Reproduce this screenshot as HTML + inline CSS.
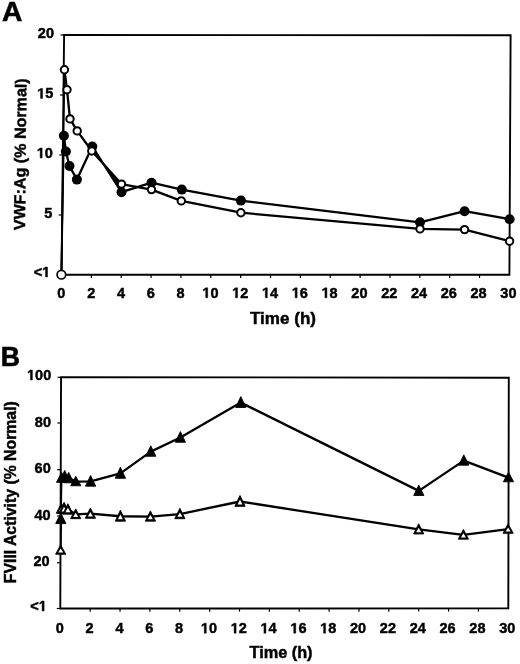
<!DOCTYPE html>
<html><head><meta charset="utf-8"><style>
html,body{margin:0;padding:0;background:#fff;width:520px;height:664px;overflow:hidden}
svg{display:block;-webkit-font-smoothing:antialiased;filter:grayscale(1) blur(0.3px)}
text{font-family:"Liberation Sans", sans-serif;font-weight:bold;fill:#000;stroke:#000;stroke-width:0.45px}
.tk{font-size:14.5px}
.g1{fill:#000;stroke:#000;stroke-width:0.45px;vector-effect:non-scaling-stroke}
.ttl{font-size:17px}
.pl{font-size:28.2px;stroke-width:0.6px}
</style></head><body>
<svg width="520" height="664" viewBox="0 0 520 664">
<rect width="520" height="664" fill="#fff"/>
<path d="M64.1 35 L510.6 35.2 L509.4 274.8 L61.5 274.7 Z" fill="none" stroke="#000" stroke-width="1.9" stroke-linejoin="miter"/>
<line x1="60.6" y1="35" x2="64.1" y2="35" stroke="#000" stroke-width="1.2"/>
<line x1="59.95" y1="95" x2="63.45" y2="95" stroke="#000" stroke-width="1.2"/>
<line x1="59.3" y1="155" x2="62.8" y2="155" stroke="#000" stroke-width="1.2"/>
<line x1="58.65" y1="215" x2="62.15" y2="215" stroke="#000" stroke-width="1.2"/>
<line x1="58" y1="275" x2="61.5" y2="275" stroke="#000" stroke-width="1.2"/>
<text x="37.87" y="38" class="tk">20</text>
<path class="g1" transform="translate(37.17 98.4) scale(0.007080 -0.007080)" d="M478 0L478 1170L140 959L140 1180L493 1409L759 1409L759 0Z"/>
<text x="45.24" y="98.4" class="tk">5</text>
<path class="g1" transform="translate(36.77 158) scale(0.007080 -0.007080)" d="M478 0L478 1170L140 959L140 1180L493 1409L759 1409L759 0Z"/>
<text x="44.84" y="158" class="tk">0</text>
<text x="44.34" y="217.9" class="tk">5</text>
<text x="33.67" y="277" class="tk">&lt;</text>
<path class="g1" transform="translate(42.14 277) scale(0.007080 -0.007080)" d="M478 0L478 1170L140 959L140 1180L493 1409L759 1409L759 0Z"/>
<text x="57.37" y="297.8" class="tk">0</text>
<line x1="91.36" y1="274.71" x2="91.36" y2="277.91" stroke="#000" stroke-width="1.2"/>
<text x="87.17" y="297.8" class="tk">2</text>
<line x1="121.22" y1="274.71" x2="121.22" y2="277.91" stroke="#000" stroke-width="1.2"/>
<text x="116.97" y="297.8" class="tk">4</text>
<line x1="151.08" y1="274.72" x2="151.08" y2="277.92" stroke="#000" stroke-width="1.2"/>
<text x="146.77" y="297.8" class="tk">6</text>
<line x1="180.94" y1="274.73" x2="180.94" y2="277.93" stroke="#000" stroke-width="1.2"/>
<text x="176.57" y="297.8" class="tk">8</text>
<line x1="210.8" y1="274.73" x2="210.8" y2="277.93" stroke="#000" stroke-width="1.2"/>
<path class="g1" transform="translate(202.34 297.8) scale(0.007080 -0.007080)" d="M478 0L478 1170L140 959L140 1180L493 1409L759 1409L759 0Z"/>
<text x="210.4" y="297.8" class="tk">0</text>
<line x1="240.66" y1="274.74" x2="240.66" y2="277.94" stroke="#000" stroke-width="1.2"/>
<path class="g1" transform="translate(232.14 297.8) scale(0.007080 -0.007080)" d="M478 0L478 1170L140 959L140 1180L493 1409L759 1409L759 0Z"/>
<text x="240.2" y="297.8" class="tk">2</text>
<line x1="270.52" y1="274.75" x2="270.52" y2="277.95" stroke="#000" stroke-width="1.2"/>
<path class="g1" transform="translate(261.94 297.8) scale(0.007080 -0.007080)" d="M478 0L478 1170L140 959L140 1180L493 1409L759 1409L759 0Z"/>
<text x="270" y="297.8" class="tk">4</text>
<line x1="300.38" y1="274.75" x2="300.38" y2="277.95" stroke="#000" stroke-width="1.2"/>
<path class="g1" transform="translate(291.74 297.8) scale(0.007080 -0.007080)" d="M478 0L478 1170L140 959L140 1180L493 1409L759 1409L759 0Z"/>
<text x="299.8" y="297.8" class="tk">6</text>
<line x1="330.24" y1="274.76" x2="330.24" y2="277.96" stroke="#000" stroke-width="1.2"/>
<path class="g1" transform="translate(321.54 297.8) scale(0.007080 -0.007080)" d="M478 0L478 1170L140 959L140 1180L493 1409L759 1409L759 0Z"/>
<text x="329.6" y="297.8" class="tk">8</text>
<line x1="360.1" y1="274.77" x2="360.1" y2="277.97" stroke="#000" stroke-width="1.2"/>
<text x="351.34" y="297.8" class="tk">20</text>
<line x1="389.96" y1="274.77" x2="389.96" y2="277.97" stroke="#000" stroke-width="1.2"/>
<text x="381.14" y="297.8" class="tk">22</text>
<line x1="419.82" y1="274.78" x2="419.82" y2="277.98" stroke="#000" stroke-width="1.2"/>
<text x="410.94" y="297.8" class="tk">24</text>
<line x1="449.68" y1="274.79" x2="449.68" y2="277.99" stroke="#000" stroke-width="1.2"/>
<text x="440.74" y="297.8" class="tk">26</text>
<line x1="479.54" y1="274.79" x2="479.54" y2="277.99" stroke="#000" stroke-width="1.2"/>
<text x="470.54" y="297.8" class="tk">28</text>
<text x="500.34" y="297.8" class="tk">30</text>
<text x="250" y="324.2" class="ttl" textLength="66" lengthAdjust="spacingAndGlyphs">Time (h)</text>
<text transform="translate(24.9,230.3) rotate(-89.4)" class="ttl" style="font-size:16px" textLength="152" lengthAdjust="spacingAndGlyphs">VWF:Ag (% Normal)</text>
<text x="2.0" y="21" class="pl">A</text>
<path d="M61.4 274.7 L63.9 135.7" fill="none" stroke="#000" stroke-width="1.8"/><path d="M63.9 135.7 L65.9 151.5 L69.5 166 L76.9 179.6 L92.3 146.5 L121.5 192.2 L151.5 182.7 L181.8 189.6 L240.9 200.6 L420 222.3 L464.6 211.2 L509.6 219.2" fill="none" stroke="#000" stroke-width="2.3" stroke-linejoin="round"/>
<path d="M102.5 162.6 L118.8 181.3 L118.8 188.6 Z" fill="#000"/>
<circle cx="63.9" cy="135.7" r="5.0" fill="#000"/>
<circle cx="65.9" cy="151.5" r="5.0" fill="#000"/>
<circle cx="69.5" cy="166" r="5.0" fill="#000"/>
<circle cx="76.9" cy="179.6" r="5.0" fill="#000"/>
<circle cx="92.3" cy="146.5" r="5.0" fill="#000"/>
<circle cx="121.5" cy="192.2" r="5.0" fill="#000"/>
<circle cx="151.5" cy="182.7" r="5.0" fill="#000"/>
<circle cx="181.8" cy="189.6" r="5.0" fill="#000"/>
<circle cx="240.9" cy="200.6" r="5.0" fill="#000"/>
<circle cx="420" cy="222.3" r="5.0" fill="#000"/>
<circle cx="464.6" cy="211.2" r="5.0" fill="#000"/>
<circle cx="509.6" cy="219.2" r="5.0" fill="#000"/>
<path d="M61.4 274.7 L64.45 69.8" fill="none" stroke="#000" stroke-width="1.8"/><path d="M64.45 69.8 L67 89.8 L70 118.9 L77.2 130.9 L91.8 151 L121.5 184.1 L151.5 189.6 L181.3 200.9 L240.9 212.7 L420 228.9 L464.6 229.6 L509.6 241.2" fill="none" stroke="#000" stroke-width="2.3" stroke-linejoin="round"/>
<circle cx="61.4" cy="274.7" r="4.3" fill="#fff" stroke="#000" stroke-width="1.7"/>
<circle cx="64.45" cy="69.8" r="3.7" fill="#fff" stroke="#000" stroke-width="2"/>
<circle cx="67" cy="89.8" r="3.7" fill="#fff" stroke="#000" stroke-width="2"/>
<circle cx="70" cy="118.9" r="3.7" fill="#fff" stroke="#000" stroke-width="2"/>
<circle cx="77.2" cy="130.9" r="3.7" fill="#fff" stroke="#000" stroke-width="2"/>
<circle cx="91.8" cy="151" r="3.7" fill="#fff" stroke="#000" stroke-width="2"/>
<circle cx="121.5" cy="184.1" r="3.7" fill="#fff" stroke="#000" stroke-width="2"/>
<circle cx="151.5" cy="189.6" r="3.7" fill="#fff" stroke="#000" stroke-width="2"/>
<circle cx="181.3" cy="200.9" r="3.7" fill="#fff" stroke="#000" stroke-width="2"/>
<circle cx="240.9" cy="212.7" r="3.7" fill="#fff" stroke="#000" stroke-width="2"/>
<circle cx="420" cy="228.9" r="3.7" fill="#fff" stroke="#000" stroke-width="2"/>
<circle cx="464.6" cy="229.6" r="3.7" fill="#fff" stroke="#000" stroke-width="2"/>
<circle cx="509.6" cy="241.2" r="3.7" fill="#fff" stroke="#000" stroke-width="2"/>
<path d="M61.05 377.1 L508.8 377.7 L508.3 608.4 L60.3 608.5 Z" fill="none" stroke="#000" stroke-width="1.9"/>
<line x1="57.55" y1="377.3" x2="61.05" y2="377.3" stroke="#000" stroke-width="1.2"/>
<line x1="57.4" y1="423" x2="60.9" y2="423" stroke="#000" stroke-width="1.2"/>
<line x1="57.25" y1="469.7" x2="60.75" y2="469.7" stroke="#000" stroke-width="1.2"/>
<line x1="57.1" y1="516" x2="60.6" y2="516" stroke="#000" stroke-width="1.2"/>
<line x1="56.95" y1="562.8" x2="60.45" y2="562.8" stroke="#000" stroke-width="1.2"/>
<line x1="56.8" y1="608.5" x2="60.3" y2="608.5" stroke="#000" stroke-width="1.2"/>
<path class="g1" transform="translate(27.01 380) scale(0.007080 -0.007080)" d="M478 0L478 1170L140 959L140 1180L493 1409L759 1409L759 0Z"/>
<text x="35.07" y="380" class="tk">00</text>
<text x="34.87" y="426.6" class="tk">80</text>
<text x="34.57" y="473.3" class="tk">60</text>
<text x="34.47" y="520" class="tk">40</text>
<text x="33.47" y="565.8" class="tk">20</text>
<text x="30.27" y="611" class="tk">&lt;</text>
<path class="g1" transform="translate(38.74 611) scale(0.007080 -0.007080)" d="M478 0L478 1170L140 959L140 1180L493 1409L759 1409L759 0Z"/>
<text x="55.77" y="633.2" class="tk">0</text>
<line x1="90.17" y1="608.49" x2="90.17" y2="611.69" stroke="#000" stroke-width="1.2"/>
<text x="85.6" y="633.2" class="tk">2</text>
<line x1="120.03" y1="608.49" x2="120.03" y2="611.69" stroke="#000" stroke-width="1.2"/>
<text x="115.43" y="633.2" class="tk">4</text>
<line x1="149.9" y1="608.48" x2="149.9" y2="611.68" stroke="#000" stroke-width="1.2"/>
<text x="145.26" y="633.2" class="tk">6</text>
<line x1="179.77" y1="608.47" x2="179.77" y2="611.67" stroke="#000" stroke-width="1.2"/>
<text x="175.09" y="633.2" class="tk">8</text>
<line x1="209.63" y1="608.47" x2="209.63" y2="611.67" stroke="#000" stroke-width="1.2"/>
<path class="g1" transform="translate(200.89 633.2) scale(0.007080 -0.007080)" d="M478 0L478 1170L140 959L140 1180L493 1409L759 1409L759 0Z"/>
<text x="208.95" y="633.2" class="tk">0</text>
<line x1="239.5" y1="608.46" x2="239.5" y2="611.66" stroke="#000" stroke-width="1.2"/>
<path class="g1" transform="translate(230.72 633.2) scale(0.007080 -0.007080)" d="M478 0L478 1170L140 959L140 1180L493 1409L759 1409L759 0Z"/>
<text x="238.78" y="633.2" class="tk">2</text>
<line x1="269.37" y1="608.45" x2="269.37" y2="611.65" stroke="#000" stroke-width="1.2"/>
<path class="g1" transform="translate(260.55 633.2) scale(0.007080 -0.007080)" d="M478 0L478 1170L140 959L140 1180L493 1409L759 1409L759 0Z"/>
<text x="268.61" y="633.2" class="tk">4</text>
<line x1="299.23" y1="608.45" x2="299.23" y2="611.65" stroke="#000" stroke-width="1.2"/>
<path class="g1" transform="translate(290.38 633.2) scale(0.007080 -0.007080)" d="M478 0L478 1170L140 959L140 1180L493 1409L759 1409L759 0Z"/>
<text x="298.44" y="633.2" class="tk">6</text>
<line x1="329.1" y1="608.44" x2="329.1" y2="611.64" stroke="#000" stroke-width="1.2"/>
<path class="g1" transform="translate(320.21 633.2) scale(0.007080 -0.007080)" d="M478 0L478 1170L140 959L140 1180L493 1409L759 1409L759 0Z"/>
<text x="328.27" y="633.2" class="tk">8</text>
<line x1="358.97" y1="608.43" x2="358.97" y2="611.63" stroke="#000" stroke-width="1.2"/>
<text x="350.04" y="633.2" class="tk">20</text>
<line x1="388.83" y1="608.43" x2="388.83" y2="611.63" stroke="#000" stroke-width="1.2"/>
<text x="379.87" y="633.2" class="tk">22</text>
<line x1="418.7" y1="608.42" x2="418.7" y2="611.62" stroke="#000" stroke-width="1.2"/>
<text x="409.7" y="633.2" class="tk">24</text>
<line x1="448.57" y1="608.41" x2="448.57" y2="611.61" stroke="#000" stroke-width="1.2"/>
<text x="439.53" y="633.2" class="tk">26</text>
<line x1="478.43" y1="608.41" x2="478.43" y2="611.61" stroke="#000" stroke-width="1.2"/>
<text x="469.36" y="633.2" class="tk">28</text>
<text x="499.19" y="633.2" class="tk">30</text>
<text x="249.5" y="658" class="ttl" style="font-size:16px" textLength="63" lengthAdjust="spacingAndGlyphs">Time (h)</text>
<text transform="translate(16.2,583.2) rotate(-90)" class="ttl" style="font-size:15.7px" textLength="182" lengthAdjust="spacingAndGlyphs">FVIII Activity (% Normal)</text>
<text x="0.8" y="366.2" class="pl" textLength="19.2" lengthAdjust="spacingAndGlyphs">B</text>
<path d="M60.8 518.9 L61.6 477.9" fill="none" stroke="#000" stroke-width="1.8"/><path d="M61.6 477.9 L64.7 476.65 L68.7 478.15 L75.8 481.6 L90.6 481.4 L120.4 473.35 L150.8 451.6 L180.4 437.5 L240.8 402.6 L418.8 490.85 L463.8 460.6 L508.5 477.55" fill="none" stroke="#000" stroke-width="2.3" stroke-linejoin="round"/>
<path d="M60.8 513.1 L65.9 523.55 L55.7 523.55 Z" fill="#000" stroke="#000" stroke-width="0.9" stroke-linejoin="round"/>
<path d="M61.6 472.3 L66.7 482.35 L56.5 482.35 Z" fill="#000" stroke="#000" stroke-width="0.9" stroke-linejoin="round"/>
<path d="M64.7 470.4 L69.8 481.75 L59.6 481.75 Z" fill="#000" stroke="#000" stroke-width="0.9" stroke-linejoin="round"/>
<path d="M68.7 472.4 L73.8 482.75 L63.6 482.75 Z" fill="#000" stroke="#000" stroke-width="0.9" stroke-linejoin="round"/>
<path d="M75.8 476.3 L80.9 485.75 L70.7 485.75 Z" fill="#000" stroke="#000" stroke-width="0.9" stroke-linejoin="round"/>
<path d="M90.6 475.5 L95.7 486.15 L85.5 486.15 Z" fill="#000" stroke="#000" stroke-width="0.9" stroke-linejoin="round"/>
<path d="M120.4 467.3 L125.5 478.25 L115.3 478.25 Z" fill="#000" stroke="#000" stroke-width="0.9" stroke-linejoin="round"/>
<path d="M150.8 445.8 L155.9 456.25 L145.7 456.25 Z" fill="#000" stroke="#000" stroke-width="0.9" stroke-linejoin="round"/>
<path d="M180.4 431.6 L185.5 442.25 L175.3 442.25 Z" fill="#000" stroke="#000" stroke-width="0.9" stroke-linejoin="round"/>
<path d="M240.8 396.6 L245.9 407.45 L235.7 407.45 Z" fill="#000" stroke="#000" stroke-width="0.9" stroke-linejoin="round"/>
<path d="M418.8 485.1 L423.9 495.45 L413.7 495.45 Z" fill="#000" stroke="#000" stroke-width="0.9" stroke-linejoin="round"/>
<path d="M463.8 454.9 L468.9 465.15 L458.7 465.15 Z" fill="#000" stroke="#000" stroke-width="0.9" stroke-linejoin="round"/>
<path d="M508.5 472.2 L513.6 481.75 L503.4 481.75 Z" fill="#000" stroke="#000" stroke-width="0.9" stroke-linejoin="round"/>
<path d="M60.7 550.15 L61.4 508.8" fill="none" stroke="#000" stroke-width="1.8"/><path d="M61.4 508.8 L64.1 508.4 L67.9 509.5 L75.7 514.35 L90.4 513.7 L120.4 516.25 L150.4 516.6 L179.9 514.08 L240 501.5 L418.7 529.45 L463.4 534.9 L508.1 529.1" fill="none" stroke="#000" stroke-width="2.3" stroke-linejoin="round"/>
<path d="M60.7 544.9 L65.8 554.25 L55.6 554.25 Z" fill="#000" stroke="#000" stroke-width="0.9" stroke-linejoin="round"/>
<path d="M60.7 548.6 L63.2 552.59 L58.2 552.59 Z" fill="#fff"/>
<path d="M61.4 503.1 L66.5 513.35 L56.3 513.35 Z" fill="#000" stroke="#000" stroke-width="0.9" stroke-linejoin="round"/>
<path d="M61.4 507.16 L63.9 511.53 L58.9 511.53 Z" fill="#fff"/>
<path d="M64.1 502.3 L69.2 513.35 L59 513.35 Z" fill="#000" stroke="#000" stroke-width="0.9" stroke-linejoin="round"/>
<path d="M64.1 506.68 L66.6 511.38 L61.6 511.38 Z" fill="#fff"/>
<path d="M67.9 503.7 L73 514.15 L62.8 514.15 Z" fill="#000" stroke="#000" stroke-width="0.9" stroke-linejoin="round"/>
<path d="M67.9 507.84 L70.4 512.29 L65.4 512.29 Z" fill="#fff"/>
<path d="M75.7 508.9 L80.8 518.65 L70.6 518.65 Z" fill="#000" stroke="#000" stroke-width="0.9" stroke-linejoin="round"/>
<path d="M75.7 512.76 L78.2 516.92 L73.2 516.92 Z" fill="#fff"/>
<path d="M90.4 508 L95.5 518.25 L85.3 518.25 Z" fill="#000" stroke="#000" stroke-width="0.9" stroke-linejoin="round"/>
<path d="M90.4 512.06 L92.9 516.43 L87.9 516.43 Z" fill="#fff"/>
<path d="M120.4 510.2 L125.5 521.15 L115.3 521.15 Z" fill="#000" stroke="#000" stroke-width="0.9" stroke-linejoin="round"/>
<path d="M120.4 514.54 L122.9 519.2 L117.9 519.2 Z" fill="#fff"/>
<path d="M150.4 510.9 L155.5 521.15 L145.3 521.15 Z" fill="#000" stroke="#000" stroke-width="0.9" stroke-linejoin="round"/>
<path d="M150.4 514.96 L152.9 519.33 L147.9 519.33 Z" fill="#fff"/>
<path d="M179.9 508.3 L185 518.7 L174.8 518.7 Z" fill="#000" stroke="#000" stroke-width="0.9" stroke-linejoin="round"/>
<path d="M179.9 512.42 L182.4 516.85 L177.4 516.85 Z" fill="#fff"/>
<path d="M240 495.5 L245.1 506.35 L234.9 506.35 Z" fill="#000" stroke="#000" stroke-width="0.9" stroke-linejoin="round"/>
<path d="M240 499.8 L242.5 504.42 L237.5 504.42 Z" fill="#fff"/>
<path d="M418.7 523.8 L423.8 533.95 L413.6 533.95 Z" fill="#000" stroke="#000" stroke-width="0.9" stroke-linejoin="round"/>
<path d="M418.7 527.82 L421.2 532.15 L416.2 532.15 Z" fill="#fff"/>
<path d="M463.4 529.5 L468.5 539.15 L458.3 539.15 Z" fill="#000" stroke="#000" stroke-width="0.9" stroke-linejoin="round"/>
<path d="M463.4 533.32 L465.9 537.44 L460.9 537.44 Z" fill="#fff"/>
<path d="M508.1 523.8 L513.2 533.25 L503 533.25 Z" fill="#000" stroke="#000" stroke-width="0.9" stroke-linejoin="round"/>
<path d="M508.1 527.54 L510.6 531.57 L505.6 531.57 Z" fill="#fff"/>
</svg>
</body></html>
